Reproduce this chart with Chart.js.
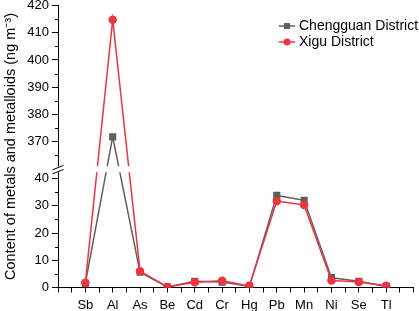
<!DOCTYPE html>
<html>
<head>
<meta charset="utf-8">
<script src="https://cdn.jsdelivr.net/npm/chart.js@4"></script>
<style>
  html, body { margin: 0; padding: 0; background: #fff; }
  #wrap { width: 419px; height: 311px; }
</style>
</head>
<body>
<div id="wrap"><canvas id="chart"></canvas></div>
<script>
const elements = ['Sb', 'Al', 'As', 'Be', 'Cd', 'Cr', 'Hg', 'Pb', 'Mn', 'Ni', 'Se', 'Tl'];
const chengguan = [1.5, 371.8, 5.6, 0.2, 2.3, 2.0, 0.4, 33.8, 32.0, 3.6, 2.3, 0.4];
const xigu = [1.7, 414.8, 6.0, 0.2, 1.9, 2.5, 0.6, 31.7, 30.3, 2.6, 2.0, 0.6];

const lowerTicks = [0, 10, 20, 30, 40];
const upperTicks = [370, 380, 390, 400, 410, 420];
const lowerMinor = [5, 15, 25, 35];
const upperMinor = [365, 375, 385, 395, 405, 415];

// broken y axis: values above the break are shifted down by OFFSET
const OFFSET = 316.5;
const BREAK = 42;
const toAxis = v => (v > BREAK ? v - OFFSET : v);

const FONT = 'Arial, "Liberation Sans", Helvetica, sans-serif';
const GRAY = '#5f5f5f';
const RED = '#ef3340';

const toPoints = arr => arr.map((v, i) => ({ x: i, y: toAxis(v) }));

const breakPlugin = {
  id: 'axisBreak',
  afterDatasetsDraw(chart) {
    const { ctx, chartArea, scales: { y } } = chart;
    const left = chartArea.left;
    ctx.save();

    // minor ticks on y axis
    ctx.strokeStyle = '#000';
    ctx.lineWidth = 1;
    ctx.beginPath();
    [...lowerMinor, ...upperMinor.map(toAxis)].forEach(v => {
      const py = Math.round(y.getPixelForValue(v)) + 0.5;
      ctx.moveTo(left - 3, py);
      ctx.lineTo(left, py);
    });
    ctx.stroke();

    // white band for the break
    const top = y.getPixelForValue(44.5);
    const bot = y.getPixelForValue(42.3);
    ctx.fillStyle = '#fff';
    ctx.fillRect(left - 1, top, chartArea.right - left + 1, bot - top);

    // break marks
    const y1 = y.getPixelForValue(44.0);
    const y2 = y.getPixelForValue(42.5);
    ctx.beginPath();
    [y1, y2].forEach(py => {
      ctx.moveTo(left - 5.5, py + 2.2);
      ctx.lineTo(left + 5.5, py - 2.2);
    });
    ctx.stroke();
    ctx.restore();
  },
  afterDraw(chart) {
    const { ctx } = chart;
    ctx.save();
    ctx.font = '14px ' + FONT;
    ctx.textBaseline = 'middle';
    chart.data.datasets.forEach((ds, i) => {
      const ly = 26 + i * 16;
      ctx.strokeStyle = ds.borderColor;
      ctx.lineWidth = 1.5;
      ctx.beginPath();
      ctx.moveTo(279, ly);
      ctx.lineTo(295, ly);
      ctx.stroke();
      ctx.fillStyle = ds.borderColor;
      if (ds.pointStyle === 'rect') {
        ctx.fillRect(284, ly - 3, 6, 6);
      } else {
        ctx.beginPath();
        ctx.arc(287, ly, 3.5, 0, Math.PI * 2);
        ctx.fill();
      }
      ctx.fillStyle = '#000';
      ctx.fillText(ds.label, 299, ly + 0.5);
    });
    ctx.restore();
  }
};

new Chart(document.getElementById('chart'), {
  type: 'line',
  data: {
    datasets: [{
      label: 'Chengguan District',
      data: toPoints(chengguan),
      borderColor: GRAY,
      backgroundColor: GRAY,
      borderWidth: 1.5,
      pointStyle: 'rect',
      pointRadius: 4,
      order: 2
    }, {
      label: 'Xigu District',
      data: toPoints(xigu),
      borderColor: RED,
      backgroundColor: RED,
      borderWidth: 1.5,
      pointStyle: 'circle',
      pointRadius: 3.5,
      order: 1
    }]
  },
  options: {
    responsive: true,
    maintainAspectRatio: false,
    animation: false,
    layout: { padding: { top: 5, right: 3, bottom: 0, left: 0 } },
    plugins: { legend: { display: false }, tooltip: { enabled: false } },
    scales: {
      x: {
        type: 'linear',
        min: -1,
        max: 12,
        afterBuildTicks: s => {
          const t = [];
          for (let v = -1; v <= 12; v += 0.5) t.push({ value: v });
          s.ticks = t;
        },
        afterFit: s => { s.height = 23.5; s.paddingLeft = 0; s.paddingRight = 0; },
        ticks: {
          autoSkip: false,
          maxRotation: 0,
          padding: 5,
          color: '#000',
          font: { family: FONT, size: 13 },
          callback: v => (Number.isInteger(v) && elements[v] ? elements[v] : '')
        },
        grid: { drawOnChartArea: false, tickLength: 5, tickColor: '#000' },
        border: { color: '#000', width: 1 }
      },
      y: {
        min: 0,
        max: 420 - OFFSET,
        afterBuildTicks: s => {
          s.ticks = [...lowerTicks, ...upperTicks.map(toAxis)].map(v => ({ value: v }));
        },
        afterFit: s => { s.width = 58; s.paddingTop = 0; s.paddingBottom = 0; },
        ticks: {
          autoSkip: false,
          padding: 3,
          color: '#000',
          font: { family: FONT, size: 13 },
          callback: v => (v > BREAK ? Math.round(v + OFFSET) : v)
        },
        grid: { drawOnChartArea: false, tickLength: 6, tickColor: '#000' },
        border: { color: '#000', width: 1 },
        title: {
          display: true,
          text: 'Content of metals and metalloids (ng m\u207B\u00B3)',
          color: '#000',
          font: { family: FONT, size: 14.5 },
          padding: { top: 2, bottom: 0 }
        }
      }
    }
  },
  plugins: [breakPlugin]
});
</script>
</body>
</html>
